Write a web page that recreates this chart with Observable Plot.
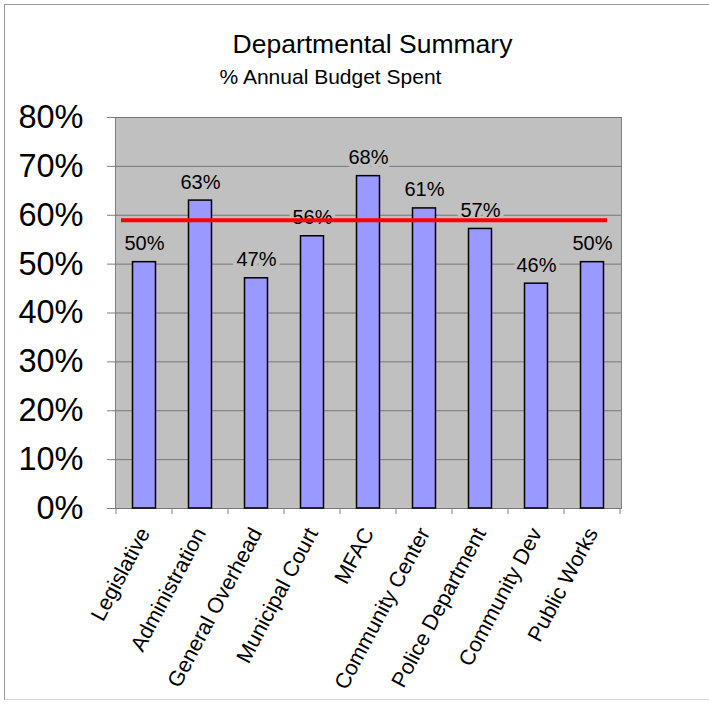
<!DOCTYPE html>
<html>
<head>
<meta charset="utf-8">
<script src="https://cdn.jsdelivr.net/npm/d3@7"></script>
<script src="https://cdn.jsdelivr.net/npm/@observablehq/plot@0.6"></script>
<style>
  body { margin: 0; background: #fff; font-family: Arial, "Liberation Sans", sans-serif; }
  #page { position: relative; width: 709px; height: 704px; overflow: hidden; background: #fff; }
  #border { position: absolute; left: 4px; top: 4px; width: 710px; height: 694px;
            border-left: 1px solid #9a9a9a; border-top: 1px solid #9a9a9a; border-bottom: 1px solid #d4d4d4; }
  .head { position: absolute; left: 0; text-align: center; line-height: 1; color: #000; white-space: nowrap; }
  #title { top: 31px; width: 745px; font-size: 26.5px; }
  #subtitle { top: 66px; width: 661px; font-size: 21px; }
  #chart { position: absolute; left: 0; top: 100px; }
</style>
</head>
<body>
<div id="page">
  <div id="border"></div>
  <div id="title" class="head">Departmental Summary</div>
  <div id="subtitle" class="head">% Annual Budget Spent</div>
  <div id="chart"></div>
</div>
<script>
// Departments and share of the annual budget spent so far
const departments = [
  "Legislative", "Administration", "General Overhead", "Municipal Court", "MFAC",
  "Community Center", "Police Department", "Community Dev", "Public Works"
];
const spent = [0.504, 0.630, 0.471, 0.557, 0.680, 0.614, 0.572, 0.460, 0.504];
// Expected share of the year elapsed (target line)
const target = 0.59;
const yTicks = [0, 0.1, 0.2, 0.3, 0.4, 0.5, 0.6, 0.7, 0.8];

const rows = departments.map((d, i) => ({department: d, spent: spent[i]}));
const pct = d3.format(".0%");
const plotGray = "#c0c0c0";

// Small tick marks at the boundaries between category bands
const bandEdgeTicks = (index, scales) => {
  const x = scales.x, y = scales.y;
  const y0 = y(0);
  const edges = departments.map(d => x(d));
  edges.push(x(departments[departments.length - 1]) + x.bandwidth());
  const g = d3.create("svg:g").attr("stroke", "#808080");
  g.selectAll("line").data(edges).join("line")
    .attr("x1", d => d).attr("x2", d => d)
    .attr("y1", y0).attr("y2", y0 + 6);
  return g.node();
};

const chart = Plot.plot({
  width: 709,
  height: 604,
  marginTop: 17,
  marginBottom: 196,
  marginLeft: 115,
  marginRight: 88,
  style: {fontFamily: "Arial, 'Liberation Sans', sans-serif", background: "transparent", color: "#000"},
  x: {domain: departments, padding: 0},
  y: {domain: [0, 0.8]},
  marks: [
    Plot.frame({fill: plotGray, stroke: "#808080"}),
    Plot.gridY(yTicks, {stroke: "#777", strokeOpacity: 1}),
    Plot.axisY(yTicks, {tickFormat: pct, fontSize: 32.5, tickSize: 8, tickPadding: 24, stroke: "#808080", fill: "#000", label: null}),
    Plot.axisX({tickSize: 0, tickPadding: 21, tickRotate: -62, fontSize: 21.5, fill: "#000", label: null}),
    bandEdgeTicks,
    Plot.barY(rows, {
      x: "department", y: "spent",
      fill: "#9999ff", stroke: "#000", strokeWidth: 1.5,
      insetLeft: 16.5, insetRight: 16.5
    }),
    Plot.text(rows, {
      x: "department", y: "spent", text: d => pct(d.spent),
      lineAnchor: "bottom", dy: -12, fontSize: 20,
      fill: "#000", stroke: plotGray, strokeWidth: 8
    }),
    Plot.ruleY([target], {stroke: "#ff0000", strokeWidth: 4, insetLeft: 6, insetRight: 14})
  ]
});
document.getElementById("chart").appendChild(chart);
</script>
</body>
</html>
